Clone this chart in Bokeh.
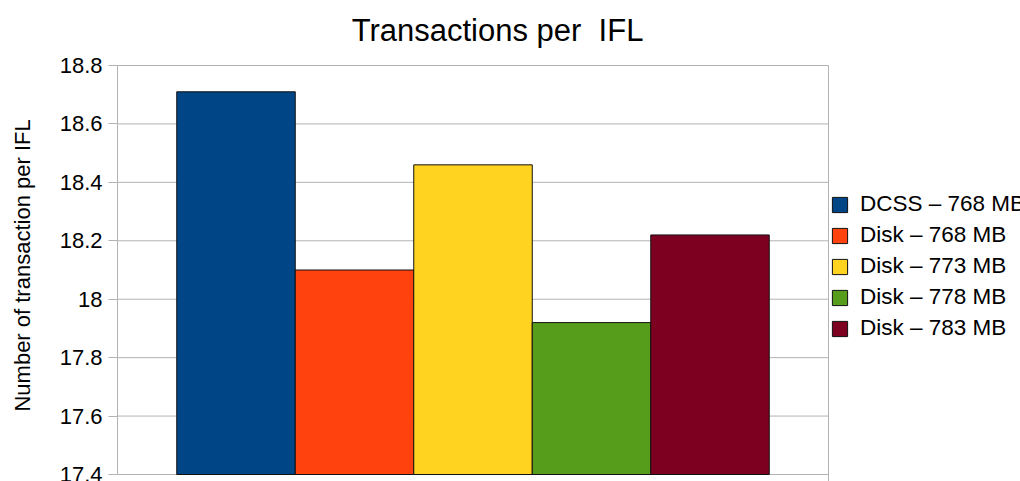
from bokeh.plotting import figure
from bokeh.models import ColumnDataSource, FixedTicker, Range1d, Label
from bokeh.embed import file_html
from bokeh.resources import INLINE

series = ["DCSS – 768 MB", "Disk – 768 MB", "Disk – 773 MB", "Disk – 778 MB", "Disk – 783 MB"]
values = [18.71, 18.10, 18.46, 17.92, 18.22]
colors = ["#004586", "#ff420e", "#ffd320", "#579d1c", "#7e0021"]
y_ticks = [17.4, 17.6, 17.8, 18.0, 18.2, 18.4, 18.6, 18.8]
y_tick_labels = ["17.4", "17.6", "17.8", "18", "18.2", "18.4", "18.6", "18.8"]
title_text = "Transactions per\u00a0 IFL"
y_label = "Number of transaction per IFL"
y_min, y_max = 17.4, 18.8

FONT = "Liberation Sans"
GRID = "#b3b3b3"

W, H = 1020, 481
LEFT = 117              # plot area left edge (px)
PLOT_W = 711            # width of the bar area (px)
PLOT_TOP, PLOT_BOT = 65, 474   # pixel rows of y_max / y_min

# axis window: bars area spans x from -1 to len(series); frame continues to the right for the legend
x_lo, x_hi = -1, len(series)
ux = PLOT_W / (x_hi - x_lo)
x_end = x_lo + (W - LEFT) / ux
uy = (PLOT_BOT - PLOT_TOP) / (y_max - y_min)
y_top = y_max + PLOT_TOP / uy
y_bot = y_min - (H - PLOT_BOT) / uy

src = ColumnDataSource(dict(x=list(range(len(series))), top=values, name=series, color=colors))

p = figure(width=W, height=H, output_backend="svg", toolbar_location=None,
           x_range=Range1d(x_lo, x_end), y_range=Range1d(y_bot, y_top),
           x_axis_location=None,
           min_border_left=LEFT, min_border_right=0, min_border_top=0, min_border_bottom=0)
p.title.visible = False
p.outline_line_color = None
p.xgrid.visible = False
p.ygrid.visible = False

# grid lines limited to the plot area
grid_src = ColumnDataSource(dict(y=y_ticks, x0=[x_lo] * len(y_ticks), x1=[x_hi] * len(y_ticks)))
p.segment(x0="x0", y0="y", x1="x1", y1="y", source=grid_src, line_color=GRID, line_width=1)
# right border of the plot area
p.segment(x0=[x_hi], y0=[y_bot], x1=[x_hi], y1=[y_max], line_color=GRID, line_width=1)

p.vbar(x="x", top="top", bottom=y_min, width=1.0, source=src, fill_color="color",
       line_color="#111111", line_width=1, legend_field="name")

# title
p.add_layout(Label(x=380, y=H - 30, x_units="screen", y_units="screen", text=title_text,
                   text_font=FONT, text_font_size="31px", text_color="#000000",
                   text_align="center", text_baseline="alphabetic"))

# y axis
ax = p.yaxis[0]
ax.bounds = (y_min, y_max)
ax.ticker = FixedTicker(ticks=y_ticks)
ax.major_label_overrides = dict(zip(y_ticks, y_tick_labels))
ax.major_label_text_font = FONT
ax.major_label_text_font_size = "22px"
ax.major_label_text_color = "#000000"
ax.major_label_standoff = 6
ax.major_tick_out = 9
ax.major_tick_in = 0
ax.minor_tick_line_color = None
ax.axis_line_color = GRID
ax.major_tick_line_color = GRID
# trailing no-break spaces shift the centred label down to the plot area's centre
ax.axis_label = y_label + "\u00a0" * 8
ax.axis_label_text_font = FONT
ax.axis_label_text_font_size = "22px"
ax.axis_label_text_font_style = "normal"
ax.axis_label_text_color = "#000000"
ax.axis_label_standoff = 22

lg = p.legend[0]
lg.location = (713, H - 341)
lg.label_text_font = FONT
lg.label_text_font_size = "22.5px"
lg.label_text_color = "#000000"
lg.glyph_width = 19
lg.glyph_height = 19
lg.label_standoff = 11
lg.spacing = 5
lg.padding = 0
lg.margin = 0
lg.border_line_color = None
lg.background_fill_alpha = 0

open("out.html", "w").write(file_html(p, INLINE))
